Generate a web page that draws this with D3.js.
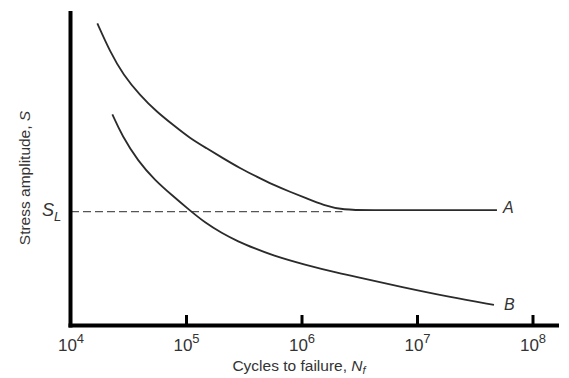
<!DOCTYPE html>
<html><head><meta charset="utf-8">
<script src="https://cdn.jsdelivr.net/npm/d3@7"></script>
<style>body{margin:0;background:#fff}svg{display:block}text{font-family:"Liberation Sans",Arial,sans-serif}</style>
</head><body><svg id="c" width="569" height="378"></svg>
<script>
// Data (log10 cycles, stress amplitude in arbitrary units 0-100)
const tickExponents = [4, 5, 6, 7, 8];
const curveA_logN = [4.228, 4.338, 4.453, 4.597, 4.742, 4.886, 5.030, 5.175, 5.319, 5.463, 5.608, 5.752, 5.896, 6.041, 6.184, 6.355, 6.6, 7.0, 7.4, 7.688];
const curveA_S    = [96.1, 87.1, 79.7, 73.3, 68.0, 63.8, 59.6, 56.4, 53.2, 50.1, 47.4, 44.8, 42.6, 40.5, 38.4, 36.8, 36.8, 36.8, 36.8, 36.8];
const curveB_logN = [4.358, 4.442, 4.583, 4.727, 4.872, 5.025, 5.160, 5.305, 5.448, 5.593, 5.738, 6.026, 6.314, 6.545, 6.848, 7.281, 7.662];
const curveB_S    = [67.2, 60.4, 52.2, 46.3, 41.6, 36.8, 32.8, 29.5, 26.8, 24.6, 22.5, 19.4, 16.8, 15.0, 12.5, 9.2, 6.7];
const enduranceLimit = 36.3;
const enduranceEndLogN = 6.35;

const svg = d3.select("#c");
const x = d3.scaleLog().domain([1e4, 1e8]).range([71, 533]);
const y = d3.scaleLinear().domain([0, 100]).range([326, 11]);

// dashed endurance line
svg.append("line")
  .attr("x1", x(1e4)).attr("x2", x(Math.pow(10, enduranceEndLogN)))
  .attr("y1", y(enduranceLimit)).attr("y2", y(enduranceLimit))
  .attr("stroke", "#555").attr("stroke-width", 1.4).attr("stroke-dasharray", "8,4");

const line = d3.line().x(d => x(Math.pow(10, d[0]))).y(d => y(d[1])).curve(d3.curveBasis);
svg.append("path").datum(curveA_logN.map((v, i) => [v, curveA_S[i]]))
  .attr("d", line).attr("fill", "none").attr("stroke", "#2b2b2b").attr("stroke-width", 1.8);
svg.append("path").datum(curveB_logN.map((v, i) => [v, curveB_S[i]]))
  .attr("d", line).attr("fill", "none").attr("stroke", "#2b2b2b").attr("stroke-width", 1.8);

// axes
svg.append("line").attr("x1", 70.5).attr("x2", 70.5).attr("y1", 11).attr("y2", 327.5)
  .attr("stroke", "#000").attr("stroke-width", 4);
svg.append("line").attr("x1", 68.5).attr("x2", 559).attr("y1", 325.5).attr("y2", 325.5)
  .attr("stroke", "#000").attr("stroke-width", 4);
tickExponents.slice(1).forEach(e => {
  svg.append("line").attr("x1", x(Math.pow(10, e))).attr("x2", x(Math.pow(10, e)))
    .attr("y1", 315).attr("y2", 325).attr("stroke", "#000").attr("stroke-width", 3);
});
tickExponents.forEach(e => {
  const t = svg.append("text").attr("x", x(Math.pow(10, e))).attr("y", 351)
    .attr("text-anchor", "middle").attr("font-size", 17).attr("fill", "#333");
  t.append("tspan").text("10");
  t.append("tspan").attr("dy", -8).attr("font-size", 13).text(e);
});

// x title
const xt = svg.append("text").attr("x", 299).attr("y", 371).attr("text-anchor", "middle")
  .attr("font-size", 15.5).attr("fill", "#333");
xt.append("tspan").text("Cycles to failure, ");
xt.append("tspan").attr("font-style", "italic").text("N");
xt.append("tspan").attr("font-style", "italic").attr("font-size", 11).attr("dy", 3).text("f");

// y title
const yt = svg.append("text").attr("transform", "translate(30,178) rotate(-90)")
  .attr("text-anchor", "middle").attr("font-size", 15.5).attr("fill", "#333");
yt.append("tspan").text("Stress amplitude, ");
yt.append("tspan").attr("font-style", "italic").text("S");

// S_L label
const sl = svg.append("text").attr("x", 42).attr("y", 216).attr("font-size", 18).attr("fill", "#333");
sl.append("tspan").attr("font-style", "italic").text("S");
sl.append("tspan").attr("font-style", "italic").attr("font-size", 13).attr("dy", 5).text("L");

// curve labels
svg.append("text").attr("x", 503).attr("y", 213).attr("font-size", 16).attr("font-style", "italic")
  .attr("fill", "#333").text("A");
svg.append("text").attr("x", 504).attr("y", 310).attr("font-size", 16).attr("font-style", "italic")
  .attr("fill", "#333").text("B");
</script></body></html>
